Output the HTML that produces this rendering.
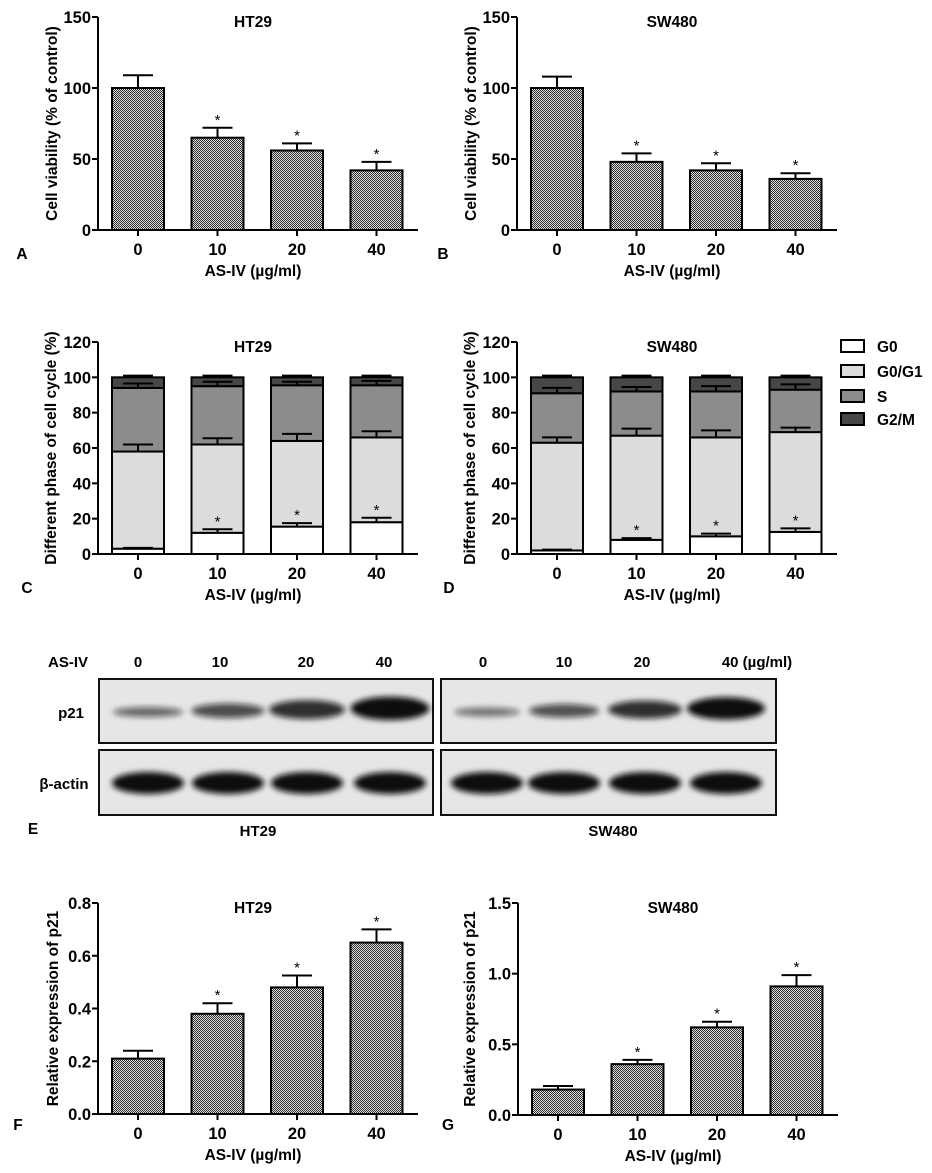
<!DOCTYPE html>
<html><head><meta charset="utf-8"><style>
html,body{margin:0;padding:0;background:#fff;}
svg{display:block;font-family:"Liberation Sans",Arial,sans-serif;font-weight:bold;}
</style></head><body>
<svg id="fig" width="932" height="1173" viewBox="0 0 932 1173" xmlns="http://www.w3.org/2000/svg">
<defs>
<pattern id="chk" width="2" height="2" patternUnits="userSpaceOnUse">
<rect width="2" height="2" fill="#e0e0e0"/><rect width="1" height="1" fill="#2a2a2a"/><rect x="1" y="1" width="1" height="1" fill="#2a2a2a"/>
</pattern>
<filter id="blur" x="-30%" y="-100%" width="160%" height="300%"><feGaussianBlur stdDeviation="3"/></filter>
</defs>
</svg>
<script>
// ---- data ----
const categories = ["0","10","20","40"];
const vA = [100,65,56,42];
const eA = [109,72,61,48];
const vB = [100,48,42,36];
const eB = [108,54,47,40];
const ticksAB = [0,50,100,150];
const tickLabelsAB = ["0","50","100","150"];
const cG0 = [3,12,15.5,18];
const cG0G1 = [58,62,64,66];
const cS = [94,95,95.5,95.5];
const cG2M = [100,100,100,100];
const eCG0 = [3.5,14,17.5,20.5];
const eCG0G1 = [62,65.5,68,69.5];
const eCS = [96.5,97.5,97.5,98];
const eCG2M = [101,101,101,101];
const dG0 = [2,8,10,12.5];
const dG0G1 = [63,67,66,69];
const dS = [91,92,92,93];
const dG2M = [100,100,100,100];
const eDG0 = [2.5,9,11.5,14.5];
const eDG0G1 = [66,71,70,71.5];
const eDS = [94,94.5,95,96];
const eDG2M = [101,101,101,101];
const ticksCD = [0,20,40,60,80,100,120];
const tickLabelsCD = ["0","20","40","60","80","100","120"];
const vF = [0.21,0.38,0.48,0.65];
const eF = [0.24,0.42,0.525,0.70];
const ticksF = [0,0.2,0.4,0.6,0.8];
const tickLabelsF = ["0.0","0.2","0.4","0.6","0.8"];
const vG = [0.18,0.36,0.62,0.91];
const eG = [0.205,0.39,0.66,0.99];
const ticksG = [0,0.5,1.0,1.5];
const tickLabelsG = ["0.0","0.5","1.0","1.5"];
const legendLabels = ["G0","G0/G1","S","G2/M"];
const legendColors = ["#ffffff","#dcdcdc","#8c8c8c","#474747"];
const p21HT = [0.6,0.72,0.85,1.0];
const p21SW = [0.55,0.7,0.85,1.0];

const NS="http://www.w3.org/2000/svg";
const svg=document.getElementById('fig');
function mk(tag,attrs,parent,text){const e=document.createElementNS(NS,tag);for(const k in attrs)e.setAttribute(k,attrs[k]);if(text!==undefined)e.textContent=text;(parent||svg).appendChild(e);return e;}

function axes(g,o){
  const sy=v=>o.y0-(v/o.max)*(o.y0-o.yTop);
  mk('line',{x1:o.ox,y1:o.yTop,x2:o.ox,y2:o.y0,stroke:'#000','stroke-width':2},g);
  mk('line',{x1:o.ox,y1:o.y0,x2:o.ox+320,y2:o.y0,stroke:'#000','stroke-width':2},g);
  o.ticks.forEach((t,i)=>{
    const y=sy(t);
    mk('line',{x1:o.ox-6,y1:y,x2:o.ox,y2:y,stroke:'#000','stroke-width':2},g);
    const tl=mk('text',{x:o.ox-7,y:y+6,'text-anchor':'end','font-size':16.5},g,o.tickLabels[i]);
    
    
  });
  categories.forEach((c,i)=>{
    const cx=o.ox+40+i*79.5;
    mk('line',{x1:cx,y1:o.y0,x2:cx,y2:o.y0+6,stroke:'#000','stroke-width':2},g);
    const tl=mk('text',{x:cx,y:o.y0+25,'text-anchor':'middle','font-size':16.5},g,c);
    
    
  });
  const xt=mk('text',{x:o.ox+155,y:o.y0+46,'text-anchor':'middle','font-size':15.5},g,'AS-IV (\u00b5g/ml)');
  
  
  const yt=mk('text',{x:0,y:0,'text-anchor':'middle','font-size':15.5,transform:`translate(${o.ytx},${(o.y0+o.yTop)/2}) rotate(-90)`},g,o.ytitle);
  
  
  const tt=mk('text',{x:o.ox+155,y:o.yTop+10,'text-anchor':'middle','font-size':15.5},g,o.title);
  
  
  return sy;
}
function errbar(g,cx,yTopBar,yErr){
  mk('line',{x1:cx,y1:yTopBar,x2:cx,y2:yErr,stroke:'#000','stroke-width':2},g);
  mk('line',{x1:cx-15,y1:yErr,x2:cx+15,y2:yErr,stroke:'#000','stroke-width':2},g);
}
function star(g,cx,y){
  const s=mk('text',{x:cx,y:y,'text-anchor':'middle','font-size':15,'font-weight':'normal'},g,'*');
  
  
}
function barChart(name,o,vals,errs){
  const g=mk('g',{});
  
  
  const sy=axes(g,o);
  vals.forEach((v,i)=>{
    const cx=o.ox+40+i*79.5;
    errbar(g,cx,sy(v),sy(errs[i]));
    const r=mk('rect',{x:cx-26,y:sy(v),width:52,height:o.y0-sy(v),fill:'url(#chk)',stroke:'#000','stroke-width':2},g);
    
    
    if(i>0) star(g,cx,sy(errs[i])-3);
  });
}
function stackChart(name,o,tops,errs){
  const g=mk('g',{});
  
  
  const sy=axes(g,o);
  categories.forEach((c,i)=>{
    const cx=o.ox+40+i*79.5;
    let prev=0;
    tops.forEach((arr,k)=>{
      const r=mk('rect',{x:cx-26,y:sy(arr[i]),width:52,height:sy(prev)-sy(arr[i]),fill:legendColors[k],stroke:'#000','stroke-width':2},g);
      
      
      prev=arr[i];
    });
    tops.forEach((arr,k)=>{ errbar(g,cx,sy(arr[i]),sy(errs[k][i])); });
    if(i>0) star(g,cx,sy(errs[0][i])-3);
  });
}
barChart('chart-a-ht29-viability',{ox:98,y0:230,yTop:17,max:150,ticks:ticksAB,tickLabels:tickLabelsAB,title:'HT29',ytitle:'Cell viability (% of control)',ytx:57},vA,eA);
barChart('chart-b-sw480-viability',{ox:517,y0:230,yTop:17,max:150,ticks:ticksAB,tickLabels:tickLabelsAB,title:'SW480',ytitle:'Cell viability (% of control)',ytx:476},vB,eB);
stackChart('chart-c-ht29-cell-cycle',{ox:98,y0:554,yTop:342,max:120,ticks:ticksCD,tickLabels:tickLabelsCD,title:'HT29',ytitle:'Different phase of cell cycle (%)',ytx:56},[cG0,cG0G1,cS,cG2M],[eCG0,eCG0G1,eCS,eCG2M]);
stackChart('chart-d-sw480-cell-cycle',{ox:517,y0:554,yTop:342,max:120,ticks:ticksCD,tickLabels:tickLabelsCD,title:'SW480',ytitle:'Different phase of cell cycle (%)',ytx:475},[dG0,dG0G1,dS,dG2M],[eDG0,eDG0G1,eDS,eDG2M]);
barChart('chart-f-ht29-p21',{ox:98,y0:1114,yTop:903,max:0.8,ticks:ticksF,tickLabels:tickLabelsF,title:'HT29',ytitle:'Relative expression of p21',ytx:58},vF,eF);
barChart('chart-g-sw480-p21',{ox:518,y0:1115,yTop:903,max:1.5,ticks:ticksG,tickLabels:tickLabelsG,title:'SW480',ytitle:'Relative expression of p21',ytx:475},vG,eG);

const lg=mk('g',{});


legendLabels.forEach((l,k)=>{
  const y=[346,371,396,419][k];
  const r=mk('rect',{x:841,y:y-6,width:23,height:12,fill:legendColors[k],stroke:'#000','stroke-width':2},lg);
  
  
  const t=mk('text',{x:877,y:y+6,'font-size':15.5},lg,l);
  
  
});

[['A',22,259],['B',443,259],['C',27,593],['D',449,593],['E',33,834],['F',18,1130],['G',448,1130]].forEach(p=>{
  const t=mk('text',{x:p[1],y:p[2],'text-anchor':'middle','font-size':15.5},svg,p[0]);
  
  
});

const wb=mk('g',{});


const lanesHT=[148,228,307,390], lanesSW=[487,564,645,726];
[[99,433],[441,776]].forEach((b,j)=>{
  [[679,743],[750,815]].forEach((r,k)=>{
    const rc=mk('rect',{x:b[0],y:r[0],width:b[1]-b[0],height:r[1]-r[0],fill:'#e6e6e6',stroke:'#111','stroke-width':2},wb);
    
    
  });
});
function band(cx,cy,w,h,op){
  const e=mk('ellipse',{cx:cx,cy:cy,rx:w/2,ry:h/2,fill:'#111','fill-opacity':op,filter:'url(#blur)'},wb);
  
  
}
lanesHT.forEach((x,i)=>{band(x,712-i*1.2,70+i*3,10+i*4.5,p21HT[i]);band(x,783,72,22,1);});
lanesSW.forEach((x,i)=>{band(x,712-i*1.2,66+i*4,9+i*4.5,p21SW[i]);band(x,783,72,22,1);});
const bl=[['AS-IV',68,667],['0',138,667],['10',220,667],['20',306,667],['40',384,667],['0',483,667],['10',564,667],['20',642,667],['40 (\u00b5g/ml)',757,667],['p21',71,718],['\u03b2-actin',64,789],['HT29',258,836],['SW480',613,836]];
bl.forEach(a=>{
  const t=mk('text',{x:a[1],y:a[2],'text-anchor':'middle','font-size':15},wb,a[0]);
  
  
});
</script>
</body></html>
